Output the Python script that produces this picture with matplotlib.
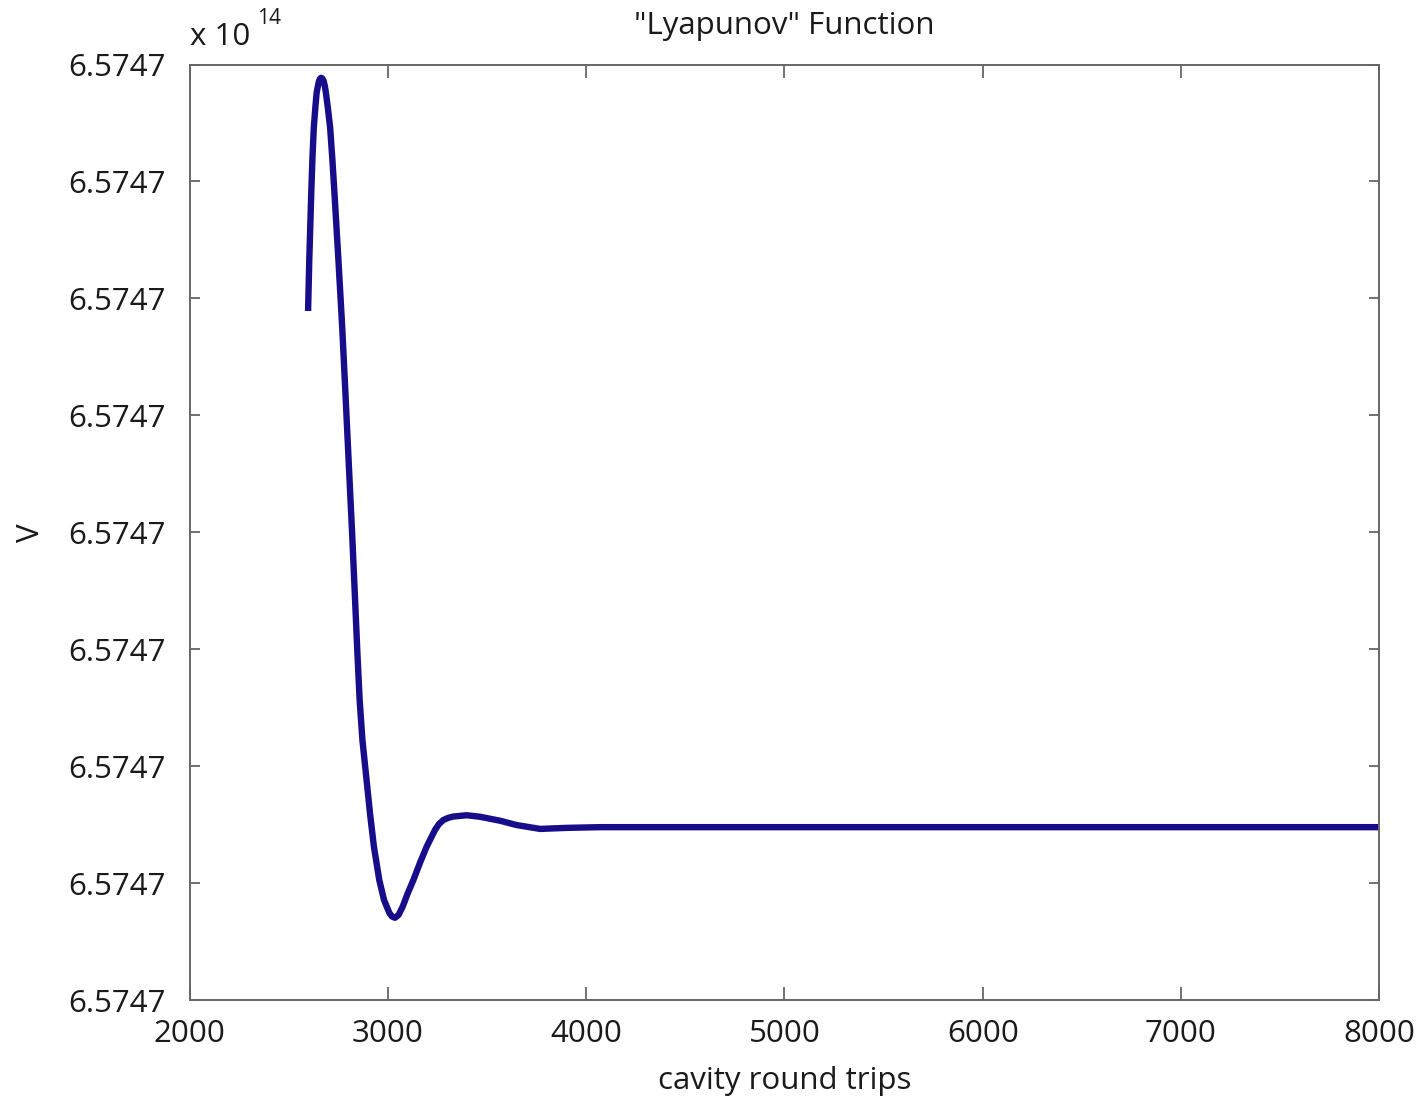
import matplotlib
matplotlib.use("Agg")
import matplotlib.pyplot as plt

plt.rcParams['font.family'] = ['Open Sans', 'DejaVu Sans']

# Data (y in units of tick steps above the lowest tick)
round_trips = [2598, 2604, 2614, 2620, 2627, 2635, 2641, 2648, 2653, 2658,
               2663, 2669, 2676, 2682, 2688, 2698, 2709, 2720, 2731, 2751,
               2770, 2788, 2804, 2820, 2835, 2846, 2858, 2872, 2893, 2910,
               2930, 2957, 2981, 3008, 3021, 3036, 3054, 3075, 3099, 3129,
               3162, 3196, 3238, 3258, 3280, 3305, 3330, 3398, 3465, 3566,
               3650, 3768, 3902, 4070, 8000]
lyap_v = [5.892, 6.328, 6.901, 7.200, 7.465, 7.640, 7.756, 7.820, 7.858, 7.878,
          7.886, 7.882, 7.862, 7.820, 7.756, 7.625, 7.465, 7.200, 6.901, 6.328,
          5.755, 5.131, 4.558, 3.994, 3.421, 2.993, 2.565, 2.223, 1.881, 1.599,
          1.311, 1.026, 0.855, 0.744, 0.714, 0.703, 0.727, 0.798, 0.906, 1.026,
          1.172, 1.311, 1.454, 1.505, 1.539, 1.558, 1.569, 1.580, 1.567, 1.533,
          1.496, 1.463, 1.472, 1.478, 1.478]

x_ticks = [2000, 3000, 4000, 5000, 6000, 7000, 8000]
y_ticks = [0, 1, 2, 3, 4, 5, 6, 7, 8]
y_tick_labels = ["6.5747"] * 9

W, H = 1422, 1096
fig = plt.figure(figsize=(W / 100, H / 100), dpi=100)
ax = fig.add_axes([189.5 / W, 1 - 1000 / H, (1379.3 - 189.5) / W, (1000 - 64.5) / H])

ax.plot(round_trips, lyap_v, color='#170c8a', lw=4.6, solid_capstyle='butt',
        solid_joinstyle='round')

ax.set_xlim(2000, 8000)
ax.set_ylim(0, 8)
ax.set_xticks(x_ticks)
ax.set_xticklabels([str(v) for v in x_ticks])
ax.set_yticks(y_ticks)
ax.set_yticklabels(y_tick_labels)

axis_col = '#666666'
for s in ax.spines.values():
    s.set_color(axis_col)
    s.set_linewidth(1.4)
ax.tick_params(axis='both', direction='in', top=True, right=True,
               color=axis_col, width=1.3, labelsize=22.5, labelcolor='#1a1a1a')
ax.tick_params(axis='x', length=9.5, pad=14)
ax.tick_params(axis='y', length=7.5, pad=17)

ax.set_title('"Lyapunov" Function', fontsize=22.5, color='#1a1a1a', pad=22)
ax.set_xlabel('cavity round trips', fontsize=22.5, color='#1a1a1a', labelpad=12)
ax.set_ylabel('V', fontsize=22.5, color='#1a1a1a', labelpad=16)

fig.text(190 / W, 1 - 37 / H, 'x 10', fontsize=22.5, color='#1a1a1a',
         ha='left', va='center')
fig.text(257 / W, 1 - 18 / H, '14', fontsize=15, color='#1a1a1a',
         ha='left', va='center')

fig.savefig('out.png', dpi=100, facecolor='white')
